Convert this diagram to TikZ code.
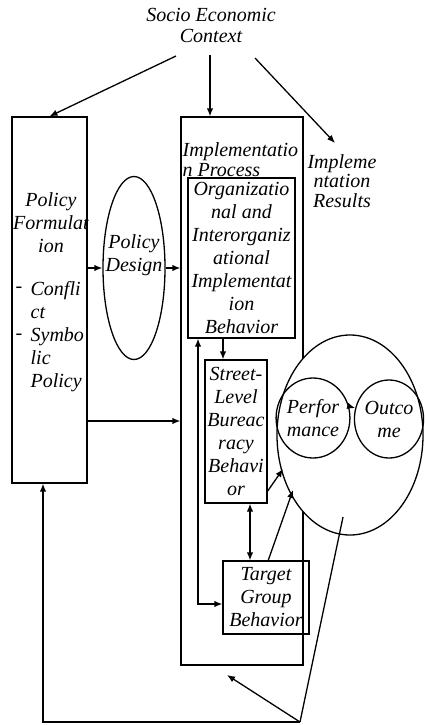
\documentclass[tikz,border=0pt]{standalone}
\usepackage{fontspec}
\setmainfont{Liberation Serif}
\usetikzlibrary{arrows.meta,shapes.geometric,calc}
\begin{document}
\begin{tikzpicture}[x=1pt,y=-1pt,line width=1.3pt,
  txt/.style={font=\fontsize{20}{23}\selectfont\itshape,align=center,inner sep=0pt},
  txtl/.style={font=\fontsize{20}{23}\selectfont\itshape,align=left,inner sep=0pt},
  box/.style={draw,rectangle,inner sep=0pt},
  ell/.style={draw,ellipse,inner sep=0pt},
  arr/.style={-{Latex[length=8pt,width=6.5pt]}},
  darr/.style={{Latex[length=8pt,width=6.5pt]}-{Latex[length=8pt,width=6.5pt]}}]
\useasboundingbox (0,0) rectangle (424,725);

% context
\node[txt,font=\fontsize{20}{21}\selectfont\itshape] (ctx) at (211,25) {Socio Economic\\Context};

% policy formulation box
\node[box,minimum width=75pt,minimum height=366pt] (pf) at (49.5,300) {};
\node[txt] (pft) at (51,223) {Policy\\Formulat\\ion};
\node[txtl,anchor=west] (pfl) at (30,336.5) {Confli\\ct\\Symbo\\lic\\Policy};
\node[txt] (d1) at (19,290) {-};
\node[txt] (d2) at (19,337) {-};

% policy design
\node[ell,minimum width=62pt,minimum height=183pt] (pd) at (134,268) {};
\node[txt] (pdt) at (134,255) {Policy\\Design};

% implementation process box
\node[box,minimum width=122pt,minimum height=548pt] (ip) at (242,391) {};
\node[txtl,anchor=west,font=\fontsize{20}{20}\selectfont\itshape] (ipt) at (182,160) {Implementatio\\n Process};

% results text
\node[txt,font=\fontsize{20}{19.5}\selectfont\itshape] (res) at (342,181) {Impleme\\ntation\\Results};

% inner boxes
\node[box,txt,draw,minimum width=107pt,minimum height=160pt] (org) at (241.5,258)
  {Organizatio\\nal and\\Interorganiz\\ational\\Implementat\\ion\\Behavior};
\node[box,txt,draw,minimum width=62pt,minimum height=143pt] (sl) at (236,431.5)
  {Street-\\Level\\Bureac\\racy\\Behavi\\or};
\node[box,txt,draw,minimum width=86pt,minimum height=73pt] (tg) at (266,597.5)
  {Target\\Group\\Behavior};

% big circle with performance / outcome
\node[ell,fill=white,minimum width=146pt,minimum height=200pt] (bc) at (350,435) {};
\node[ell,txt,draw,minimum width=61pt,minimum height=80pt] (perf) at (313,418) {Perfor\\mance};
\node[ell,txt,draw,minimum width=61pt,minimum height=78pt] (oc) at (389,419) {Outco\\me};
\draw[arr] (perf.18) -- (oc.162);

% coordinates
\coordinate (c1) at (176,56);
\coordinate (c2) at (210,55);
\coordinate (c3) at (255,58);
\coordinate (c3e) at (335,143);
\coordinate (c4) at (87,421);
\coordinate (xa) at (223,0);
\coordinate (c5) at (198,604);
\coordinate (xb) at (250,0);
\coordinate (s1) at (267,492);
\coordinate (e1) at (283,469);
\coordinate (s2) at (268,561);
\coordinate (e2) at (293,490);
\coordinate (f1) at (343,517);
\coordinate (f2) at (300,722);
\coordinate (f3) at (227,675);
\coordinate (f4) at (43,722);

% context arrows
\draw[arr] (c1) -- (pf.north);
\draw[arr] (c2) -- (c2 |- ip.north);
\draw[arr] (c3) -- (c3e);

% policy flow arrows
\draw[arr] (pd.west -| pf.east) -- (pd.west);
\draw[arr] (pd.east) -- (pd.east -| ip.west);
\draw[arr] (c4) -- (c4 -| ip.west);

% inner arrows
\draw[arr] (org.south -| xa) -- (sl.north -| xa);
\draw[darr] (org.south -| c5) -- (c5) -- (c5 -| tg.west);
\draw[darr] (sl.south -| xb) -- (tg.north -| xb);
\draw[arr] (s1) -- (e1);
\draw[arr] (s2) -- (e2);

% feedback
\draw (f1) -- (f2);
\draw[arr] (f2) -- (f3);
\draw[arr] (f2) -- (f4) -- (f4 |- pf.south);
\end{tikzpicture}
\end{document}
